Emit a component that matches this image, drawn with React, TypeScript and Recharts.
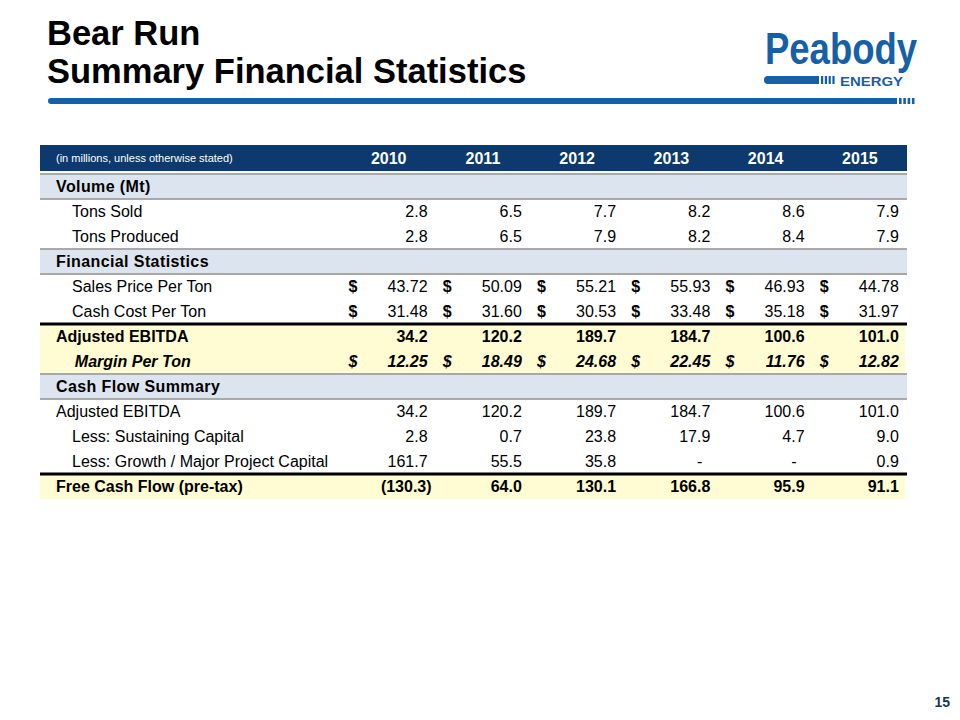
import React from "react";
import { ScatterChart, Scatter, XAxis, YAxis, ReferenceArea, ReferenceLine } from "recharts";

const FONT = "'Liberation Sans', Arial, sans-serif";
const NAVY = "#0c3a6e";
const BLUE = "#1660a8";
const SECTION_BG = "#dce4ef";
const YELLOW = "#fffbd2";

// table content
const HEADER_NOTE = "(in millions, unless otherwise stated)";
const YEARS = ["2010", "2011", "2012", "2013", "2014", "2015"];

const tonsSold = [2.8, 6.5, 7.7, 8.2, 8.6, 7.9];
const tonsProduced = [2.8, 6.5, 7.9, 8.2, 8.4, 7.9];
const salesPrice = [43.72, 50.09, 55.21, 55.93, 46.93, 44.78];
const cashCost = [31.48, 31.6, 30.53, 33.48, 35.18, 31.97];
const adjEbitda = [34.2, 120.2, 189.7, 184.7, 100.6, 101.0];
const marginPerTon = [12.25, 18.49, 24.68, 22.45, 11.76, 12.82];
const sustainingCapital = [2.8, 0.7, 23.8, 17.9, 4.7, 9.0];
const growthCapital = [161.7, 55.5, 35.8, 0, 0, 0.9];
const freeCashFlow = [-130.3, 64.0, 130.1, 166.8, 95.9, 91.1];

type Kind = "section" | "item" | "total" | "margin" | "plain";
type Row = { label: string; kind: Kind; values?: number[]; decimals?: number; dollar?: boolean };

const ROWS: Row[] = [
  { label: "Volume (Mt)", kind: "section" },
  { label: "Tons Sold", kind: "item", values: tonsSold, decimals: 1 },
  { label: "Tons Produced", kind: "item", values: tonsProduced, decimals: 1 },
  { label: "Financial Statistics", kind: "section" },
  { label: "Sales Price Per Ton", kind: "item", values: salesPrice, decimals: 2, dollar: true },
  { label: "Cash Cost Per Ton", kind: "item", values: cashCost, decimals: 2, dollar: true },
  { label: "Adjusted EBITDA", kind: "total", values: adjEbitda, decimals: 1 },
  { label: "Margin Per Ton", kind: "margin", values: marginPerTon, decimals: 2, dollar: true },
  { label: "Cash Flow Summary", kind: "section" },
  { label: "Adjusted EBITDA", kind: "plain", values: adjEbitda, decimals: 1 },
  { label: "Less: Sustaining Capital", kind: "item", values: sustainingCapital, decimals: 1 },
  { label: "Less: Growth / Major Project Capital", kind: "item", values: growthCapital, decimals: 1 },
  { label: "Free Cash Flow (pre-tax)", kind: "total", values: freeCashFlow, decimals: 1 },
];

// column geometry, in table units (one unit = one year column)
const LABEL_W = 3.2;
const TABLE_W = LABEL_W + YEARS.length;
const VALUE_RIGHT = 0.913;
const DOLLAR_LEFT = 0.074;
const HEADER_TOP = -1.16;
const HEADER_BOTTOM = -0.12;

const fmt = (v: number, d: number) => {
  if (v === 0) return "-";
  if (v < 0) return `(${Math.abs(v).toFixed(d)})`;
  return v.toFixed(d);
};

const indent = (kind: Kind) => (kind === "item" ? 0.34 : kind === "margin" ? 0.37 : 0.17);

const labelCells = ROWS.map((row, r) => ({ x: indent(row.kind), y: r + 0.5, text: row.label, kind: row.kind }));

const valueCells = ROWS.flatMap((row, r) =>
  (row.values || []).map((v, j) => ({
    x: LABEL_W + j + VALUE_RIGHT,
    y: r + 0.5,
    text: fmt(v, row.decimals || 1),
    kind: row.kind,
    neg: v < 0,
    dash: v === 0,
  }))
);

const dollarCells = ROWS.flatMap((row, r) =>
  row.dollar ? YEARS.map((_, j) => ({ x: LABEL_W + j + DOLLAR_LEFT, y: r + 0.5, text: "$", kind: row.kind })) : []
);

const headerCells = [
  { x: 0.17, y: (HEADER_TOP + HEADER_BOTTOM) / 2, text: HEADER_NOTE, note: true },
  ...YEARS.map((yr, j) => ({ x: LABEL_W + j + 0.5, y: (HEADER_TOP + HEADER_BOTTOM) / 2, text: yr, note: false })),
];

const textStyle = (kind: Kind) => ({
  fontWeight: kind === "section" || kind === "total" || kind === "margin" ? 700 : 400,
  fontStyle: kind === "margin" ? "italic" : "normal",
  letterSpacing: kind === "section" ? 0.4 : 0,
});

const LabelShape = (p: any) => (
  <text x={p.cx} y={p.cy} dominantBaseline="central" fontFamily={FONT} fontSize={16} fill="#000" {...textStyle(p.payload.kind)}>
    {p.payload.text}
  </text>
);

const ValueShape = (p: any) => (
  <text
    x={p.cx + (p.payload.neg ? 4 : p.payload.dash ? -8 : 0)}
    y={p.cy}
    textAnchor="end"
    dominantBaseline="central"
    fontFamily={FONT}
    fontSize={16}
    fill="#000"
    {...textStyle(p.payload.kind)}
    letterSpacing={0}
  >
    {p.payload.text}
  </text>
);

const DollarShape = (p: any) => (
  <text x={p.cx} y={p.cy} dominantBaseline="central" fontFamily={FONT} fontSize={16} fill="#000" {...textStyle(p.payload.kind)} fontWeight={700}>
    {p.payload.text}
  </text>
);

const HeaderShape = (p: any) => (
  <text
    x={p.cx}
    y={p.cy}
    textAnchor={p.payload.note ? "start" : "middle"}
    dominantBaseline="central"
    fontFamily={FONT}
    fontSize={p.payload.note ? 11 : 16}
    fontWeight={p.payload.note ? 400 : 700}
    fill="#fff"
  >
    {p.payload.text}
  </text>
);

const sectionRows = ROWS.map((r, i) => (r.kind === "section" ? i : -1)).filter((i) => i >= 0);
const yellowRows = ROWS.map((r, i) => (r.kind === "total" || r.kind === "margin" ? i : -1)).filter((i) => i >= 0);
const greyLines = [0, 1, 3, 4, 8, 9];
const blackLines = [6, 12];

function Decor() {
  return (
    <svg width={960} height={720} style={{ position: "absolute", left: 0, top: 0, pointerEvents: "none" }}>
      <text x={47} y={45} fontFamily={FONT} fontSize={34.5} fontWeight={700} fill="#000">Bear Run</text>
      <text x={47} y={83} fontFamily={FONT} fontSize={34.5} fontWeight={700} fill="#000">Summary Financial Statistics</text>
      <path d="M51,98 H897 V104 H51 A3,3 0 0 1 51,98 Z" fill={BLUE} />
      {[0, 1, 2, 3].map((i) => (
        <rect key={i} x={899 + i * 4.3} y={98} width={2.6} height={6} fill={BLUE} />
      ))}
      <text
        x={765}
        y={64}
        fontFamily="'Liberation Sans Narrow', 'Liberation Sans', Arial, sans-serif"
        fontSize={45}
        fontWeight={700}
        fill={BLUE}
        textLength={152}
        lengthAdjust="spacingAndGlyphs"
      >
        Peabody
      </text>
      <path d="M768,76 H819 V84 H768 A4,4 0 0 1 768,76 Z" fill={BLUE} />
      {[0, 1, 2, 3].map((i) => (
        <rect key={i} x={821 + i * 3.8} y={76} width={2.2} height={8} fill={BLUE} />
      ))}
      <text x={840} y={86} fontFamily={FONT} fontSize={12} fontWeight={700} fill={BLUE} textLength={63} lengthAdjust="spacingAndGlyphs">
        ENERGY
      </text>
      <text x={950} y={707} textAnchor="end" fontFamily={FONT} fontSize={14} fontWeight={700} fill="#17365d">15</text>
    </svg>
  );
}

export default function App() {
  return (
    <div style={{ position: "absolute", left: 0, top: 0, width: 960, height: 720, background: "#fff" }}>
      <ScatterChart width={960} height={720} margin={{ top: 144, right: 53, bottom: 221, left: 40 }}>
        <XAxis type="number" dataKey="x" domain={[0, TABLE_W]} allowDataOverflow hide />
        <YAxis type="number" dataKey="y" domain={[-1.2, 13]} allowDataOverflow reversed hide />
        <ReferenceArea x1={0} x2={TABLE_W} y1={HEADER_TOP} y2={HEADER_BOTTOM} fill={NAVY} fillOpacity={1} stroke="none" />
        {sectionRows.map((r) => (
          <ReferenceArea key={`s${r}`} x1={0} x2={TABLE_W} y1={r} y2={r + 1} fill={SECTION_BG} fillOpacity={1} stroke="none" />
        ))}
        {yellowRows.map((r) => (
          <ReferenceArea key={`y${r}`} x1={0} x2={TABLE_W - 0.02} y1={r} y2={r + 1} fill={YELLOW} fillOpacity={1} stroke="none" />
        ))}
        {greyLines.map((r) => (
          <ReferenceLine key={`g${r}`} y={r} stroke="#a9a9a9" strokeWidth={2} />
        ))}
        {blackLines.map((r) => (
          <ReferenceLine key={`b${r}`} y={r} stroke="#000" strokeWidth={3} />
        ))}
        <Scatter data={headerCells} shape={HeaderShape} isAnimationActive={false} />
        <Scatter data={labelCells} shape={LabelShape} isAnimationActive={false} />
        <Scatter data={dollarCells} shape={DollarShape} isAnimationActive={false} />
        <Scatter data={valueCells} shape={ValueShape} isAnimationActive={false} />
      </ScatterChart>
      <Decor />
    </div>
  );
}
